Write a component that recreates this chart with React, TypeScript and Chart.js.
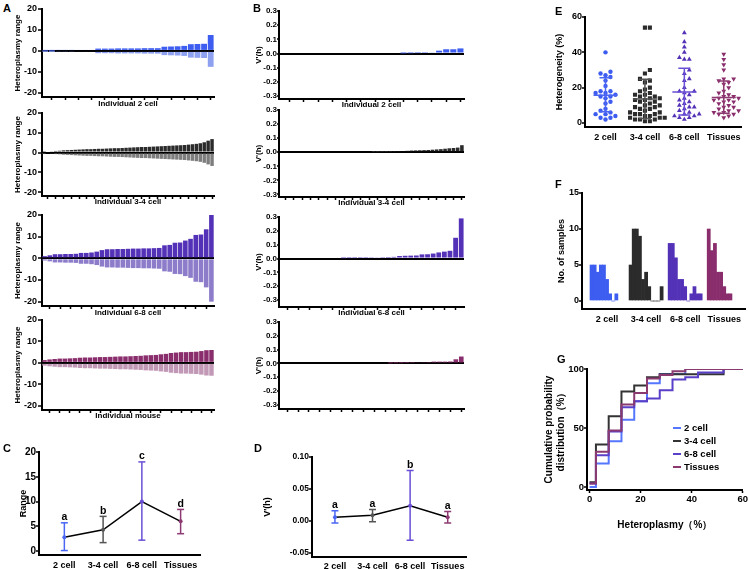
import React, { useEffect, useRef } from "react";
import { Chart, registerables } from "chart.js";

Chart.register(...registerables);

const FAM = "'Liberation Sans', Arial, Helvetica, sans-serif";

// ---------------- data ----------------
const GROUPS = ["2 cell", "3-4 cell", "6-8 cell", "Tissues"];

// Panel A: heteroplasmy range per individual (sorted ascending)
const A_2CELL = [0.1, 0.1, 0.4, 0.4, 0.4, 0.5, 0.5, 0.5, 1.1, 1.1, 1.1, 1.2, 1.2, 1.2, 1.2, 1.3, 1.3, 1.3, 2.0, 2.1, 2.2, 2.4, 3.2, 3.3, 3.4, 7.6];
const A_34CELL = [0.3, 0.5, 0.6, 0.8, 0.9, 1.1, 1.2, 1.3, 1.4, 1.5, 1.6, 1.7, 1.7, 1.8, 1.9, 1.9, 2.0, 2.1, 2.2, 2.2, 2.3, 2.4, 2.5, 2.6, 2.7, 2.8, 2.8, 2.9, 3.0, 3.1, 3.2, 3.3, 3.4, 3.5, 3.6, 3.7, 3.8, 4.0, 4.2, 4.4, 4.7, 5.2, 6.0, 6.8];
const A_68CELL = [1.0, 1.4, 1.9, 1.9, 2.0, 2.0, 2.1, 2.5, 2.5, 2.7, 3.1, 3.8, 4.2, 4.2, 4.3, 4.3, 4.4, 4.5, 4.5, 4.6, 4.6, 4.7, 4.8, 6.0, 6.2, 7.2, 7.3, 8.2, 9.0, 10.8, 11.0, 13.4, 20.0];
const A_MOUSE = [1.3, 1.6, 1.8, 2.0, 2.0, 2.1, 2.2, 2.4, 2.5, 2.5, 2.6, 2.7, 2.7, 2.8, 2.9, 3.0, 3.0, 3.1, 3.2, 3.3, 3.5, 3.6, 3.7, 4.0, 4.2, 4.6, 4.8, 5.0, 5.0, 5.1, 5.2, 5.5, 5.9, 6.0];
const A_TICKS = [-20, -10, 0, 10, 20];

// Panel B: V'(h) per individual
const B_2CELL = [0, 0, 0, 0, 0, 0, 0, 0, 0, 0, 0, 0, 0, 0, 0, 0, 0, 0.001, 0.002, 0.003, 0.004, 0.006, 0.02, 0.03, 0.03, 0.036];
const B_34CELL = [0, 0, 0, 0, 0, 0, 0, 0, 0, 0, 0, 0, 0, 0, 0, 0, 0, 0, 0, 0, 0, 0, 0.001, 0.001, 0.002, 0.002, 0.003, 0.004, 0.005, 0.008, 0.01, 0.012, 0.013, 0.014, 0.015, 0.016, 0.018, 0.02, 0.022, 0.025, 0.028, 0.03, 0.033, 0.05];
const B_68CELL = [0, 0, 0, 0, 0, 0, 0, 0, 0, 0, 0, 0.002, 0.003, 0.003, 0.004, 0.004, 0.005, 0.006, 0.01, 0.011, 0.012, 0.018, 0.02, 0.021, 0.022, 0.03, 0.031, 0.036, 0.044, 0.05, 0.056, 0.15, 0.29];
const B_MOUSE = [0, 0, 0, 0, 0, 0, 0, 0, 0, 0, 0, 0, 0, 0, 0, 0, 0, 0, 0, 0, 0.001, 0.002, 0.002, 0.003, 0.004, 0.006, 0.009, 0.01, 0.013, 0.013, 0.013, 0.014, 0.03, 0.05];
const B_TICKS = [-0.3, -0.2, -0.1, 0, 0.1, 0.2, 0.3];

// Panel C: range mean and error bars
const C_MEAN = [2.8, 4.3, 10, 6];
const C_HIGH = [5.7, 7, 18, 8.4];
const C_LOW = [0.1, 1.7, 2.2, 3.5];
const C_LETTERS = ["a", "b", "c", "d"];
const C_TICKS = [0, 5, 10, 15, 20];

// Panel D: V'(h) mean and error bars
const D_MEAN = [0.006, 0.009, 0.024, 0.006];
const D_HIGH = [0.016, 0.018, 0.079, 0.015];
const D_LOW = [-0.003, -0.001, -0.03, -0.003];
const D_LETTERS = ["a", "a", "b", "a"];
const D_TICKS = [-0.05, 0, 0.05, 0.1];

// Panel E: heterogeneity (%)
const E_2CELL = [40, 29, 28, 27, 26, 24, 21, 18, 18, 17, 17, 16, 15, 15, 14, 12, 11, 8, 7, 6, 5, 5, 4, 3, 3, 2];
const E_34CELL = [54, 54, 30, 28, 25, 24, 23, 20, 19, 18, 17, 16, 16, 15, 15, 14, 14, 13, 13, 12, 12, 11, 10, 10, 9, 9, 8, 8, 7, 6, 6, 5, 5, 5, 4, 4, 3, 3, 3, 2, 2, 2, 1, 1];
const E_68CELL = [51, 46, 43, 40, 37, 36, 36, 30, 28, 25, 24, 20, 18, 18, 17, 16, 14, 13, 12, 11, 10, 9, 9, 8, 7, 6, 5, 5, 4, 4, 3, 3, 2];
const E_TISSUE = [39, 36, 33, 30, 25, 25, 24, 23, 22, 20, 18, 17, 16, 15, 15, 14, 14, 13, 13, 12, 12, 11, 10, 9, 9, 8, 7, 7, 6, 6, 5, 5, 4, 3];
const E_MEAN = [15.7, 13.6, 17.5, 14.5];
const E_SD_HIGH = [25.6, 24.7, 31, 23.8];
const E_SD_LOW = [6.4, 2.5, 4.5, 5.5];
const E_TICKS = [0, 20, 40, 60];

// Panel F: number of samples per 5% heterogeneity bin
const F_2CELL = [5, 5, 4, 5, 5, 3, 1, 0, 1];
const F_34CELL = [5, 10, 10, 9, 3, 4, 2, 0, 0, 0, 2];
const F_68CELL = [8, 8, 6, 3, 3, 2, 0, 1, 2, 1, 1];
const F_TISSUE = [10, 7, 8, 4, 4, 2, 1, 1];
const F_TICKS = [0, 5, 10, 15];

// Panel G: cumulative probability distribution (%)
const G_X = [0, 5, 10, 15, 20, 25, 30, 35, 40, 45, 50, 55, 60];
const G_2CELL = [0, 20, 38.7, 57, 72.6, 88, 95.8, 95.8, 100, 100, 100, 100, 100];
const G_34CELL = [4, 36, 60, 81, 86, 93, 95.6, 95.6, 95.6, 95.6, 95.6, 100, 100];
const G_68CELL = [3, 27, 47, 67.5, 72.6, 75, 82, 91, 93, 97, 97, 100, 100];
const G_TISSUE = [3, 30, 48, 70, 79.7, 92, 95, 98, 100, 100, 100, 100, 100];
const G_YTICKS = [0, 50, 100];
const G_XTICKS = [0, 20, 40, 60];

// ---------------- styles ----------------
const COL = ["#3d5cf0", "#2b2b2b", "#5432b8", "#8a2d6c"];
const COL_LIGHT = ["#8ea0f0", "#7d7d7d", "#8c7cc9", "#c198b5"];
const EB_COL = ["#4a66f2", "#555555", "#6a4fd6", "#8e3a72"];
const G_COL = ["#5577ff", "#333333", "#5a3fc8", "#8b3a70"];

type Box = { l: number; t: number; r: number; b: number };

function font(size: number) {
  return { family: FAM, size, weight: "bold" as const, lineHeight: 1.2 };
}

function baseOptions(canvas: Box, area: Box, scales: any) {
  return {
    responsive: false,
    maintainAspectRatio: false,
    animation: false,
    devicePixelRatio: 1,
    events: [],
    layout: { padding: { top: area.t - canvas.t, right: canvas.r - area.r, left: 0, bottom: 0 } },
    plugins: { legend: { display: false }, tooltip: { enabled: false }, title: { display: false } },
    scales,
  };
}

function yAxis(o: any) {
  return {
    type: "linear",
    position: "left",
    min: o.min,
    max: o.max,
    stacked: !!o.stacked,
    z: o.zero ? 1 : 0,
    afterBuildTicks: (s: any) => {
      s.ticks = o.ticks.map((v: number) => ({ value: v }));
    },
    afterFit: (s: any) => {
      s.width = o.width;
    },
    border: { display: true, color: "#000", width: 2 },
    grid: {
      display: true,
      drawOnChartArea: !!o.zero,
      drawTicks: true,
      color: (c: any) => (o.zero && c.tick && Math.abs(c.tick.value) < 1e-9 ? "#000" : "rgba(0,0,0,0)"),
      lineWidth: 2,
      tickColor: "#000",
      tickWidth: 1.5,
      tickLength: o.tickLen ?? 3,
    },
    ticks: {
      color: "#000",
      padding: o.pad ?? 1,
      font: font(o.size),
      callback: (v: any) => o.fmt(Number(v)),
    },
    title: o.title
      ? { display: true, text: o.title, color: "#000", padding: 0, font: font(o.titleSize ?? 8) }
      : { display: false },
  };
}

function xIndividual(height: number, title?: string) {
  return {
    type: "category",
    offset: true,
    stacked: true,
    afterBuildTicks: (s: any) => {
      s.ticks = s.ticks.filter((_: any, i: number) => i % 2 === 1);
    },
    afterFit: (s: any) => {
      s.height = height;
    },
    border: { display: true, color: "#000", width: 2 },
    grid: { display: true, offset: false, drawOnChartArea: false, tickColor: "#000", tickWidth: 1.5, tickLength: 3 },
    ticks: { autoSkip: false, maxRotation: 0, callback: () => "", font: font(6) },
    title: title
      ? { display: true, text: title, color: "#000", padding: 0, font: font(8) }
      : { display: false },
  };
}

function xGroups(o: any) {
  return {
    type: "linear",
    min: o.min,
    max: o.max,
    offset: false,
    afterBuildTicks: (s: any) => {
      s.ticks = o.ticks.map((v: number) => ({ value: v }));
    },
    afterFit: (s: any) => {
      s.height = o.height;
    },
    border: { display: true, color: "#000", width: 2 },
    grid: {
      display: true,
      drawOnChartArea: false,
      tickColor: o.tickColor ?? "rgba(0,0,0,0)",
      tickWidth: 1.5,
      tickLength: o.tickLen ?? 3,
    },
    ticks: {
      autoSkip: false,
      maxRotation: 0,
      color: "#000",
      padding: o.pad ?? 2,
      font: font(o.size ?? 9),
      callback: o.fmt,
    },
    title: o.title
      ? { display: true, text: o.title, color: "#000", padding: 0, font: font(o.titleSize ?? 9) }
      : { display: false },
  };
}

function makeA(values: number[], g: number, canvas: Box, area: Box, title?: string) {
  return {
    type: "bar",
    data: {
      labels: values.map((_, i) => String(i + 1)),
      datasets: [
        { data: values, backgroundColor: COL[g], borderWidth: 0, barPercentage: 0.88, categoryPercentage: 1 },
        { data: values.map((v) => -v), backgroundColor: COL_LIGHT[g], borderWidth: 0, barPercentage: 0.88, categoryPercentage: 1 },
      ],
    },
    options: baseOptions(canvas, area, {
      x: xIndividual(canvas.b - area.b, title),
      y: yAxis({
        width: area.l - canvas.l,
        min: -22,
        max: 20,
        ticks: A_TICKS,
        fmt: (v: number) => String(v),
        size: 9,
        title: "Heteroplasmy range",
        titleSize: 8,
        zero: true,
        stacked: true,
        tickLen: 4,
        pad: 1,
      }),
    }),
  };
}

function makeB(values: number[], g: number, canvas: Box, area: Box, yMin: number, title?: string) {
  return {
    type: "bar",
    data: {
      labels: values.map((_, i) => String(i + 1)),
      datasets: [{ data: values, backgroundColor: COL[g], borderWidth: 0, barPercentage: 0.85, categoryPercentage: 1 }],
    },
    options: baseOptions(canvas, area, {
      x: xIndividual(canvas.b - area.b, title),
      y: yAxis({
        width: area.l - canvas.l,
        min: yMin,
        max: 0.3,
        ticks: B_TICKS,
        fmt: (v: number) => v.toFixed(1),
        size: 8,
        title: "V'(h)",
        titleSize: 8,
        zero: true,
        tickLen: 2,
        pad: 0,
      }),
    }),
  };
}

function letterPlugin(high: number[], letters: string[]) {
  return {
    id: "letters",
    afterDatasetsDraw(chart: any) {
      const { ctx, scales } = chart;
      ctx.save();
      ctx.font = `bold 10.5px ${FAM}`;
      ctx.fillStyle = "#000";
      ctx.textAlign = "center";
      ctx.textBaseline = "alphabetic";
      letters.forEach((l, i) => {
        ctx.fillText(l, scales.x.getPixelForValue(i), scales.y.getPixelForValue(high[i]) - 2.5);
      });
      ctx.restore();
    },
  };
}

function makeMeanErr(mean: number[], high: number[], low: number[], letters: string[], canvas: Box, area: Box, y: any, x: any) {
  return {
    type: "line",
    data: {
      datasets: [
        {
          data: mean.map((m, i) => ({ x: i, y: m })),
          borderColor: "#000",
          borderWidth: 1.5,
          pointRadius: 2,
          pointBackgroundColor: EB_COL,
          pointBorderWidth: 0,
        },
        ...mean.map((_, i) => ({
          data: [
            { x: i, y: low[i] },
            { x: i, y: high[i] },
          ],
          borderColor: EB_COL[i],
          borderWidth: 1.5,
          pointStyle: "line",
          pointRadius: 3.5,
          pointBorderColor: EB_COL[i],
          pointBorderWidth: 1.5,
        })),
      ],
    },
    options: baseOptions(canvas, area, { x, y }),
    plugins: [letterPlugin(high, letters)],
  };
}

function swarm(values: number[], center: number, pxX: number, pxY: number, d: number) {
  const placed: { dx: number; y: number }[] = [];
  const order = values.map((_, i) => i).sort((a, b) => values[a] - values[b]);
  const out: { x: number; y: number }[] = new Array(values.length);
  order.forEach((i) => {
    const y = values[i];
    for (let k = 0; k < 80; k++) {
      const step = Math.ceil(k / 2) * (k % 2 ? 1 : -1);
      const dx = step * d * 0.55;
      if (placed.every((p) => Math.hypot(p.dx - dx, (p.y - y) * pxY) >= d)) {
        placed.push({ dx, y });
        out[i] = { x: center + dx / pxX, y };
        return;
      }
    }
    out[i] = { x: center, y };
  });
  return out;
}

// ---------------- panels ----------------
const A_CANVAS: Box[] = [
  { l: 13, t: 0, r: 222, b: 109 },
  { l: 13, t: 106, r: 222, b: 207 },
  { l: 13, t: 208, r: 222, b: 318 },
  { l: 13, t: 313, r: 222, b: 421 },
];
const A_AREA: Box[] = [
  { l: 42, t: 9, r: 214, b: 97 },
  { l: 42, t: 113, r: 214, b: 196 },
  { l: 42, t: 215, r: 214, b: 306 },
  { l: 42, t: 320, r: 214, b: 410 },
];
const A_TITLES = ["Individual 2 cell", "Individual 3-4 cell", "Individual 6-8 cell", "Individual mouse"];
const A_SETS = [A_2CELL, A_34CELL, A_68CELL, A_MOUSE];

const B_CANVAS: Box[] = [
  { l: 254, t: 4, r: 470, b: 110 },
  { l: 254, t: 103, r: 470, b: 208 },
  { l: 254, t: 210, r: 470, b: 318 },
  { l: 254, t: 315, r: 470, b: 416 },
];
const B_AREA: Box[] = [
  { l: 279, t: 11, r: 464, b: 99 },
  { l: 279, t: 110, r: 464, b: 197 },
  { l: 279, t: 217, r: 464, b: 307 },
  { l: 279, t: 322, r: 464, b: 409 },
];
const B_MIN = [-0.321, -0.318, -0.35, -0.33];
const B_TITLES = ["Individual 2 cell", "Individual 3-4 cell", "Individual 6-8 cell", undefined];
const B_SETS = [B_2CELL, B_34CELL, B_68CELL, B_MOUSE];

const C_CANVAS = { l: 18, t: 444, r: 206, b: 569 };
const D_CANVAS = { l: 262, t: 449, r: 472, b: 569 };
const E_CANVAS = { l: 554, t: 9, r: 749, b: 146 };
const F_CANVAS = { l: 556, t: 186, r: 749, b: 328 };
const G_CANVAS = { l: 543, t: 362, r: 749, b: 531 };

function makeC() {
  const canvas = C_CANVAS;
  const area = { l: 39, t: 452, r: 200, b: 555 };
  return makeMeanErr(
    C_MEAN, C_HIGH, C_LOW, C_LETTERS, canvas, area,
    yAxis({ width: area.l - canvas.l, min: -0.8, max: 20, ticks: C_TICKS, fmt: (v: number) => String(v), size: 10, title: "Range", titleSize: 9, tickLen: 3, pad: 0 }),
    xGroups({ min: -0.654, max: 3.5, ticks: [0, 1, 2, 3], height: canvas.b - area.b, fmt: (v: any) => GROUPS[Number(v)] ?? "", size: 9, tickLen: 3, pad: 2 })
  );
}

function makeD() {
  const canvas = D_CANVAS;
  const area = { l: 312, t: 457, r: 467, b: 557 };
  return makeMeanErr(
    D_MEAN, D_HIGH, D_LOW, D_LETTERS, canvas, area,
    yAxis({ width: area.l - canvas.l, min: -0.056, max: 0.1, ticks: D_TICKS, fmt: (v: number) => v.toFixed(2), size: 8.5, title: "V'(h)", titleSize: 9, tickLen: 3, pad: 0 }),
    xGroups({ min: -0.61, max: 3.5, ticks: [0, 1, 2, 3], height: canvas.b - area.b, fmt: (v: any) => GROUPS[Number(v)] ?? "", size: 9, tickLen: 2, pad: 2 })
  );
}

function makeE() {
  const canvas = E_CANVAS;
  const area = { l: 585, t: 17, r: 745, b: 127 };
  const pxY = (area.b - 4 - area.t) / 60;
  const pxX = (area.r - area.l) / 3.97;
  const sets = [E_2CELL, E_34CELL, E_68CELL, E_TISSUE];
  const styles = ["circle", "rect", "triangle", "triangle"];
  const radius = [2.2, 2.9, 2.8, 2.8];
  return {
    type: "scatter",
    data: {
      datasets: [
        ...GROUPS.map((_, g) => ({
          data: [
            { x: g, y: E_SD_LOW[g] },
            { x: g, y: E_MEAN[g] },
            { x: g, y: E_SD_HIGH[g] },
          ],
          showLine: true,
          borderColor: EB_COL[g],
          borderWidth: 1.5,
          pointStyle: "line",
          pointRadius: [6, 12, 6],
          pointBorderColor: EB_COL[g],
          pointBorderWidth: 1.5,
        })),
        ...sets.map((vals, g) => ({
          data: swarm(vals, g, pxX, pxY, 4.6),
          showLine: false,
          pointStyle: styles[g],
          pointRotation: g === 3 ? 180 : 0,
          pointRadius: radius[g],
          pointBackgroundColor: COL[g],
          pointBorderColor: COL[g],
          pointBorderWidth: 0,
          backgroundColor: COL[g],
          borderColor: COL[g],
        })),
      ],
    },
    options: baseOptions(canvas, area, {
      x: xGroups({ min: -0.52, max: 3.45, ticks: [0, 1, 2, 3], height: canvas.b - area.b, fmt: (v: any) => GROUPS[Number(v)] ?? "", size: 9, tickLen: 3, pad: 2 }),
      y: yAxis({ width: area.l - canvas.l, min: -2.26, max: 60, ticks: E_TICKS, fmt: (v: number) => String(v), size: 9, title: "Heterogeneity (%)", titleSize: 9, tickLen: 3, pad: 0 }),
    }),
  };
}

const F_STRIDE = 12.6;
const F_LABEL_BIN = 5;
function makeF() {
  const canvas = F_CANVAS;
  const area = { l: 582, t: 193, r: 745, b: 309 };
  const sets = [F_2CELL, F_34CELL, F_68CELL, F_TISSUE];
  const centers = sets.map((_, g) => g * F_STRIDE + F_LABEL_BIN);
  return {
    type: "bar",
    data: {
      datasets: sets.map((vals, g) => ({
        data: vals.map((v, k) => ({ x: g * F_STRIDE + k, y: v })),
        backgroundColor: COL[g],
        borderWidth: 0,
        barPercentage: 1,
        categoryPercentage: 1,
        grouped: false,
      })),
    },
    options: baseOptions(canvas, area, {
      x: xGroups({
        min: -3.08, max: 49.5, ticks: centers, height: canvas.b - area.b,
        fmt: (v: any) => {
          const i = centers.findIndex((c) => Math.abs(c - Number(v)) < 1e-6);
          return i >= 0 ? GROUPS[i] : "";
        },
        size: 9, tickLen: 3, pad: 2,
      }),
      y: yAxis({ width: area.l - canvas.l, min: -1.11, max: 15, ticks: F_TICKS, fmt: (v: number) => String(v), size: 9, title: "No. of samples", titleSize: 9, tickLen: 3, pad: 0 }),
    }),
  };
}

function makeG() {
  const canvas = G_CANVAS;
  const area = { l: 587, t: 369, r: 747, b: 490 };
  const sets = [G_2CELL, G_34CELL, G_68CELL, G_TISSUE];
  return {
    type: "line",
    data: {
      datasets: sets
        .map((vals, g) => ({
          data: vals.map((v, k) => ({ x: G_X[k], y: v })),
          borderColor: G_COL[g],
          borderWidth: 2,
          pointRadius: 0,
          stepped: "middle",
          fill: false,
        }))
        .reverse(),
    },
    options: baseOptions(canvas, area, {
      x: xGroups({ min: -1, max: 60, ticks: G_XTICKS, height: canvas.b - area.b, fmt: (v: any) => String(v), size: 9.5, tickLen: 3, pad: 1, tickColor: "#000", title: "Heteroplasmy（%）", titleSize: 10 }),
      y: yAxis({ width: area.l - canvas.l, min: -2.5, max: 100, ticks: G_YTICKS, fmt: (v: number) => String(v), size: 9.5, title: ["Cumulative probability", "distribution（%）"], titleSize: 10, tickLen: 3, pad: 0 }),
    }),
  };
}

function Panel({ canvas, make }: { canvas: Box; make: () => any }) {
  const ref = useRef<HTMLCanvasElement | null>(null);
  useEffect(() => {
    const chart = new Chart(ref.current as HTMLCanvasElement, make());
    return () => chart.destroy();
  }, []);
  const w = canvas.r - canvas.l;
  const h = canvas.b - canvas.t;
  return (
    <canvas
      ref={ref}
      width={w}
      height={h}
      style={{ position: "absolute", left: canvas.l, top: canvas.t, width: w, height: h }}
    />
  );
}

const letterStyle = (l: number, t: number): React.CSSProperties => ({
  position: "absolute",
  left: l,
  top: t,
  font: `bold 11px ${FAM}`,
  color: "#000",
  lineHeight: "12px",
});

const LEGEND_POS = [
  { l: 673, t: 421 },
  { l: 673, t: 434 },
  { l: 673, t: 447 },
  { l: 673, t: 460 },
];

export default function App() {
  return (
    <div style={{ position: "absolute", left: 0, top: 0, width: 749, height: 569, background: "#fff", overflow: "hidden" }}>
      {A_SETS.map((vals, g) => (
        <Panel key={"a" + g} canvas={A_CANVAS[g]} make={() => makeA(vals, g, A_CANVAS[g], A_AREA[g], A_TITLES[g])} />
      ))}
      {B_SETS.map((vals, g) => (
        <Panel key={"b" + g} canvas={B_CANVAS[g]} make={() => makeB(vals, g, B_CANVAS[g], B_AREA[g], B_MIN[g], B_TITLES[g])} />
      ))}
      <Panel canvas={C_CANVAS} make={makeC} />
      <Panel canvas={D_CANVAS} make={makeD} />
      <Panel canvas={E_CANVAS} make={makeE} />
      <Panel canvas={F_CANVAS} make={makeF} />
      <Panel canvas={G_CANVAS} make={makeG} />

      <div style={letterStyle(3, 2)}>A</div>
      <div style={letterStyle(253, 2)}>B</div>
      <div style={letterStyle(3, 442)}>C</div>
      <div style={letterStyle(254, 442)}>D</div>
      <div style={letterStyle(555, 5)}>E</div>
      <div style={letterStyle(555, 178)}>F</div>
      <div style={letterStyle(557, 353)}>G</div>

      {GROUPS.map((g, i) => (
        <div key={g} style={{ position: "absolute", left: LEGEND_POS[i].l, top: LEGEND_POS[i].t, height: 13, display: "flex", alignItems: "center", font: `bold 9.5px ${FAM}`, color: "#000", whiteSpace: "nowrap" }}>
          <span style={{ display: "inline-block", width: 8, height: 2, background: G_COL[i], marginRight: 3 }} />
          {g}
        </div>
      ))}
    </div>
  );
}
